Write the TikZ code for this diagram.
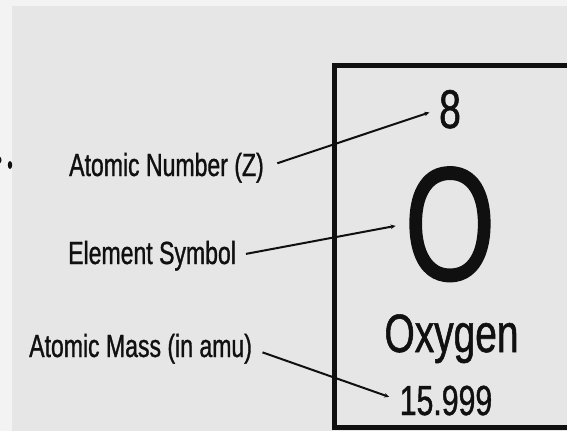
\documentclass[tikz,border=0pt]{standalone}
\usepackage{fontspec}
\newfontfamily\policeEtroite[FakeStretch=0.72, FakeBold=1]{Liberation Sans}
\usepackage{xcolor}
\definecolor{fondClair}{HTML}{F3F3F3}
\definecolor{fondGris}{HTML}{E6E6E6}
\definecolor{traitNoir}{HTML}{101010}
\usepackage{tikz}
\usetikzlibrary{arrows.meta, positioning}
\tikzset{
  %% ── Text ─────────────────────────────────────────────────────────────
  repere/.style   = {font=\policeEtroite\fontsize{32}{36}\selectfont,
                     text=traitNoir, inner sep=0pt, anchor=base west},
  symbole/.style  = {text=traitNoir, inner sep=0pt, anchor=base},
  %%
  %% ── Arrows ───────────────────────────────────────────────────────────
  fleche/.style   = {-{Stealth[length=5pt, width=4.5pt]}, draw=traitNoir,
                     line width=2pt},
}

\begin{document}
\begin{tikzpicture}[x=1pt, y=-1pt]

\useasboundingbox (0,0) rectangle (567,431);
\clip (0,0) rectangle (567,431);
\fill[fondClair] (0,0) rectangle (567,431);
\fill[fondGris] (12,6) rectangle (567,431);

%% stray marks at the left edge
\fill[traitNoir] (10,165) ellipse (2.2 and 4);
\fill[traitNoir] (0,160) ellipse (1.5 and 3);

%% element tile
\draw[traitNoir, line width=5pt] (600,65) -- (334,65) -- (334,427) -- (600,427);

\node[symbole, font=\policeEtroite\fontsize{54.5}{60}\selectfont] (numero) at (450,128) {8};
\node[symbole, font=\policeEtroite\fontsize{162}{170}\selectfont] (lettre) at (450,280) {O};
\node[symbole, font=\policeEtroite\fontsize{54}{60}\selectfont] (nom) at (451.5,352) {Oxygen};
\node[symbole, font=\policeEtroite\fontsize{42}{48}\selectfont] (masse) at (446,415) {15.999};

\node[repere] (lblNumero) at (69,176) {Atomic Number (Z)};
\node[repere] (lblSymbole) at (68,264) {Element Symbol};
\node[repere] (lblMasse) at (29,357) {Atomic Mass (in amu)};

\draw[fleche, shorten <=14pt, shorten >=10pt] (lblNumero.east) -- (numero.west);
\draw[fleche, shorten <=10pt, shorten >=9pt] (lblSymbole.east) -- (lettre.west);
\draw[fleche, shorten <=11pt, shorten >=11pt] (lblMasse.east) -- (masse.west);

\end{tikzpicture}
\end{document}
